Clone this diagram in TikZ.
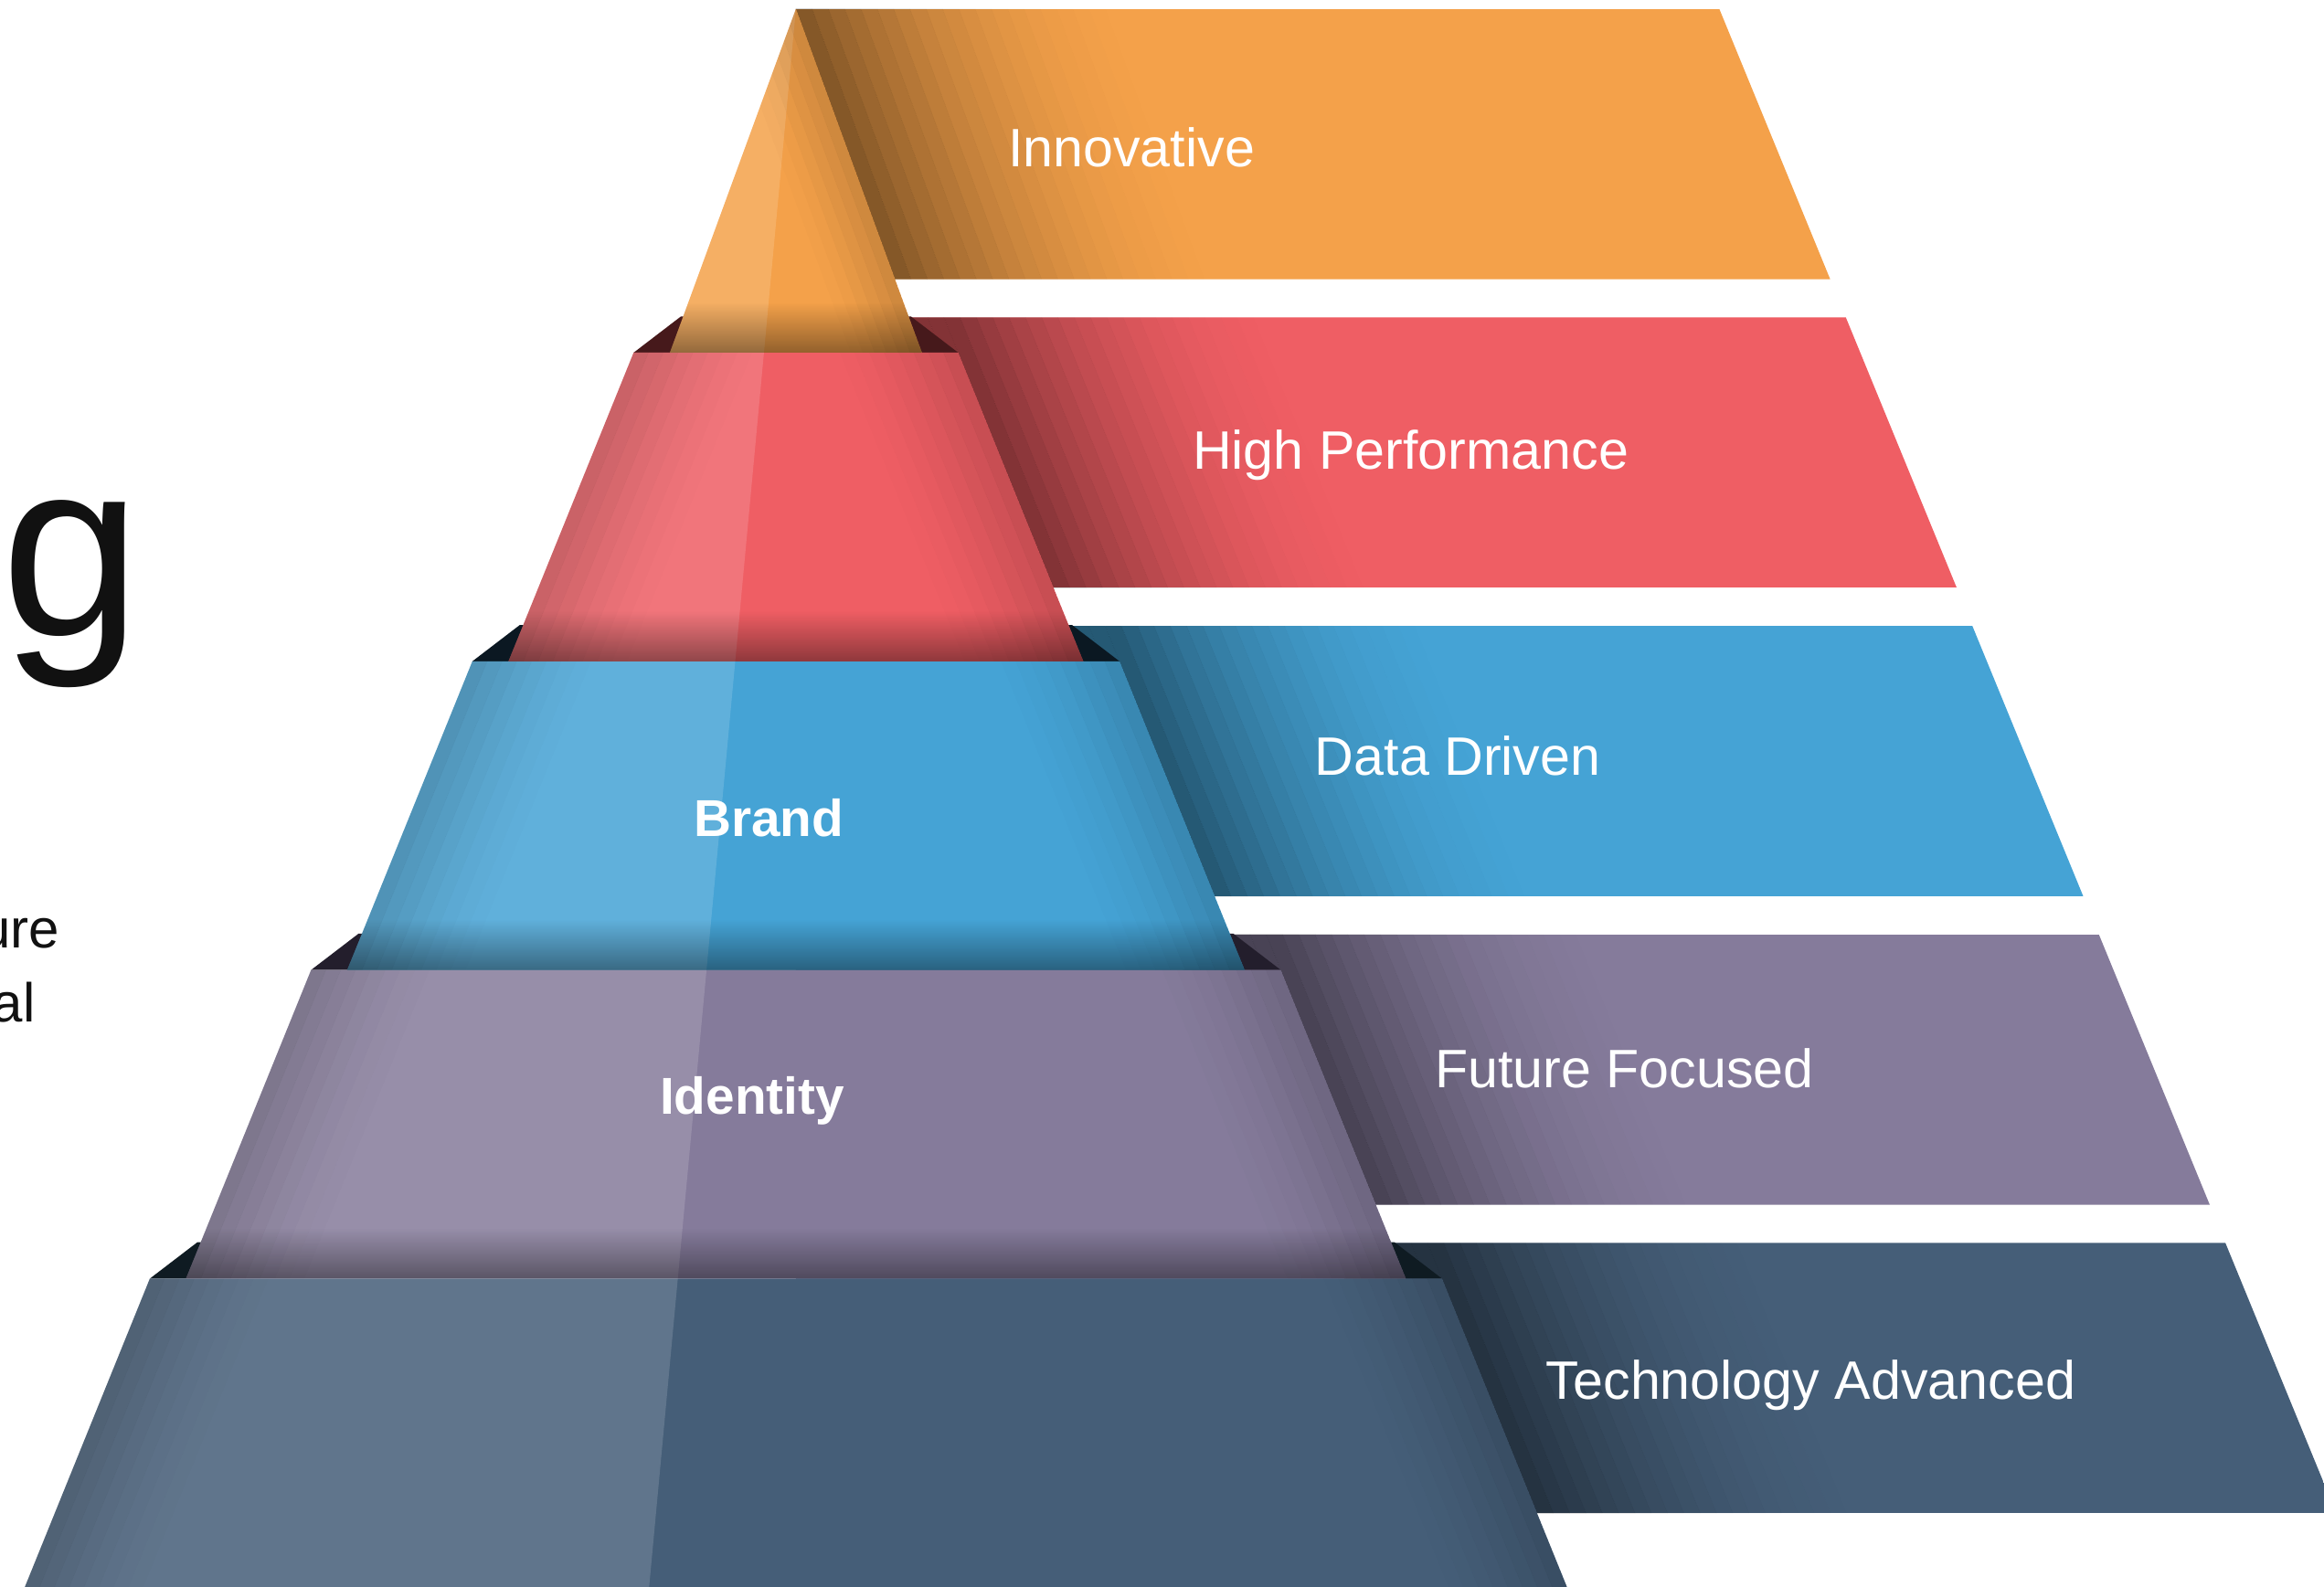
\documentclass[tikz,border=0pt]{standalone}
\usepackage{fontspec}
\setmainfont{Liberation Sans}
\usetikzlibrary{fadings}
\definecolor{cOrange}{HTML}{F4A14A}
\definecolor{cRed}{HTML}{EF5E64}
\definecolor{cBlue}{HTML}{45A3D5}
\definecolor{cPurple}{HTML}{857B9B}
\definecolor{cSlate}{HTML}{455E78}
\definecolor{bRed}{HTML}{46191B}
\definecolor{bBlue}{HTML}{0B1822}
\definecolor{bPurple}{HTML}{231E2C}
\definecolor{bSlate}{HTML}{0F1B22}
\definecolor{ink}{HTML}{111111}
\tikzfading[name=darkbottom, top color=transparent!100, bottom color=transparent!0]
\tikzset{
  lbl/.style={text=white, font=\fontsize{36.5}{40}\selectfont, inner sep=0pt, anchor=base west},
  blbl/.style={text=white, font=\fontsize{35}{40}\selectfont\bfseries, inner sep=0pt, anchor=base west},
  bigtxt/.style={text=ink, font=\fontsize{170}{176}\selectfont, inner sep=0pt},
  sidetxt/.style={text=ink, font=\fontsize{37}{40}\selectfont, inner sep=0pt, anchor=base east},
  lighthalf/.style={white, opacity=0.15},
  botshadow/.style={black, opacity=0.4, path fading=darkbottom}
}
\begin{document}
\begin{tikzpicture}[x=1pt,y=-1pt]
\clip (0,0) rectangle (1568,1071);
\fill[white] (0,0) rectangle (1568,1071);

% ---------- bands ----------
\foreach \k/\col/\a/\s in {0/cOrange/534.8/0.366, 1/cRed/549.94/0.4057, 2/cBlue/574.24/0.4057, 3/cPurple/598.53/0.4057, 4/cSlate/622.82/0.4057} {
  \pgfmathsetmacro\T{6+208.2*\k}
  \pgfmathsetmacro\B{\T+182.5}
  \pgfmathsetmacro\xr{1160+0.41*(\T-6)}
  \pgfmathsetmacro\xrb{1160+0.41*(\B-6)}
  \begin{scope}
    \clip (537,\T) -- (\xr,\T) -- (\xrb,\B) -- (537,\B) -- cycle;
    \fill[\col] (500,\T) rectangle (1600,\B);
    \foreach \i in {-6,...,19} {
      \pgfmathsetmacro\op{min(0.45,0.45*(1-\i/20)^2)}
      \fill[black, opacity=\op]
        ({\a+\s*\T+\i*11},\T) -- ({\a+\s*\T+(\i+1)*11},\T) --
        ({\a+\s*\B+(\i+1)*11},\B) -- ({\a+\s*\B+\i*11},\B) -- cycle;
    }
  \end{scope}
}

% ---------- pyramid tiers (bottom to top) ----------
\foreach \w/\y/\col/\bev/\sh in {435.9/862.9/cSlate/bSlate/0, 327.1/654.6/cPurple/bPurple/0.4, 218.3/446.3/cBlue/bBlue/0.4, 109.5/238/cRed/bRed/0.4} {
  \fill[\bev] ({537-\w},\y) -- ({537-\w+32},{\y-24.5}) -- ({537+\w-32},{\y-24.5}) -- ({537+\w},\y) -- cycle;
  \begin{scope}
    \clip ({537-\w},\y) -- ({537+\w},\y) -- ({537+\w+84.4},{\y+208.3}) -- ({537-\w-84.4},{\y+208.3}) -- cycle;
    \fill[\col] (0,{\y-1}) rectangle (1600,{\y+210});
    \fill[lighthalf] (-50,-50) -- (542.2,-50) -- (433.4,1120) -- (-50,1120) -- cycle;
    \foreach \i in {0,...,7} {
      \pgfmathsetmacro\op{0.16*(1-\i/8)^1.5}
      \fill[black, opacity=\op]
        ({537-\w+\i*10},\y) -- ({537-\w+(\i+1)*10},\y) --
        ({537-\w-84.4+(\i+1)*10},{\y+208.3}) -- ({537-\w-84.4+\i*10},{\y+208.3}) -- cycle;
      \fill[black, opacity=\op]
        ({537+\w-\i*10},\y) -- ({537+\w-(\i+1)*10},\y) --
        ({537+\w+84.4-(\i+1)*10},{\y+208.3}) -- ({537+\w+84.4-\i*10},{\y+208.3}) -- cycle;
    }
    \fill[botshadow, opacity=\sh] (0,{\y+208.3-34}) rectangle (1600,{\y+208.3});
  \end{scope}
}

% ---------- top triangle ----------
\begin{scope}
  \clip (537,6) -- (622,238) -- (452,238) -- cycle;
  \fill[cOrange] (400,0) rectangle (700,240);
  \fill[lighthalf] (-50,-50) -- (542.2,-50) -- (433.4,1120) -- (-50,1120) -- cycle;
  \foreach \i in {0,...,5} {
    \pgfmathsetmacro\op{0.15*(1-\i/6)^1.5}
    \fill[black, opacity=\op]
      ({537-\i*8},6) -- ({537-(\i+1)*8},6) -- ({622-(\i+1)*8},238) -- ({622-\i*8},238) -- cycle;
  }
  \fill[botshadow] (400,204) rectangle (700,238);
\end{scope}

% ---------- labels ----------
\node[lbl] (innovative) at (680,112.4) {Innovative};
\node[lbl] (highperf) at (804.5,316.5) {High Performance};
\node[lbl] (datadriven) at (887,523) {Data Driven};
\node[lbl] (future) at (968,733.8) {Future Focused};
\node[lbl] (techadv) at (1043,944) {Technology Advanced};
\node[blbl] (brand) at (468,564.6) {Brand};
\node[blbl] (identity) at (445,752) {Identity};

% ---------- cut-off text on the left ----------
\node[bigtxt, anchor=base west] (gword) at (1,429) {g};
\node[sidetxt] (ureword) at (40.5,640) {ure};
\node[sidetxt] (alword) at (24,689.5) {al};
\end{tikzpicture}
\end{document}
